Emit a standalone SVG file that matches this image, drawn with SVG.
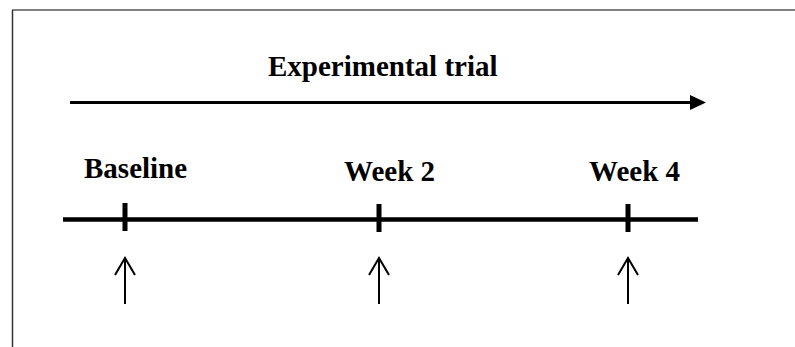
<svg xmlns="http://www.w3.org/2000/svg" width="795" height="347" viewBox="0 0 795 347">
<style>
text{font-family:"Liberation Serif","Times New Roman",serif;font-weight:bold;font-size:29px;fill:#000}
.tl{stroke:#000;stroke-width:4.5;fill:none}
.tk{stroke:#000;stroke-width:5;fill:none}
.up{stroke:#000;stroke-width:2;fill:none}
</style>
<rect width="795" height="347" fill="#fff"/>
<g id="frame">
<line x1="12" y1="10" x2="795" y2="10" stroke="#808080" stroke-width="2"/>
<line x1="12.5" y1="10" x2="12.5" y2="347" stroke="#333" stroke-width="1.5"/>
</g>
<g id="title"><text x="268" y="76">Experimental trial</text></g>
<g id="connectors">
<line x1="70" y1="102.5" x2="692" y2="102.5" stroke="#000" stroke-width="3"/>
<polygon points="690,95 706,102.5 690,110" fill="#000"/>
<line class="tl" x1="63" y1="219.5" x2="698" y2="219.5"/>
<path class="up" d="M125,304 V258 M115,275 L125,258 L135,275"/>
<path class="up" d="M379,304 V258 M369,275 L379,258 L389,275"/>
<path class="up" d="M628,304 V258 M618,275 L628,258 L638,275"/>
</g>
<g id="baseline"><line class="tk" x1="125" y1="203" x2="125" y2="231"/><text x="84" y="178">Baseline</text></g>
<g id="week2"><line class="tk" x1="379" y1="204" x2="379" y2="232"/><text x="344" y="181">Week 2</text></g>
<g id="week4"><line class="tk" x1="628" y1="204" x2="628" y2="232"/><text x="589" y="181">Week 4</text></g>
</svg>
